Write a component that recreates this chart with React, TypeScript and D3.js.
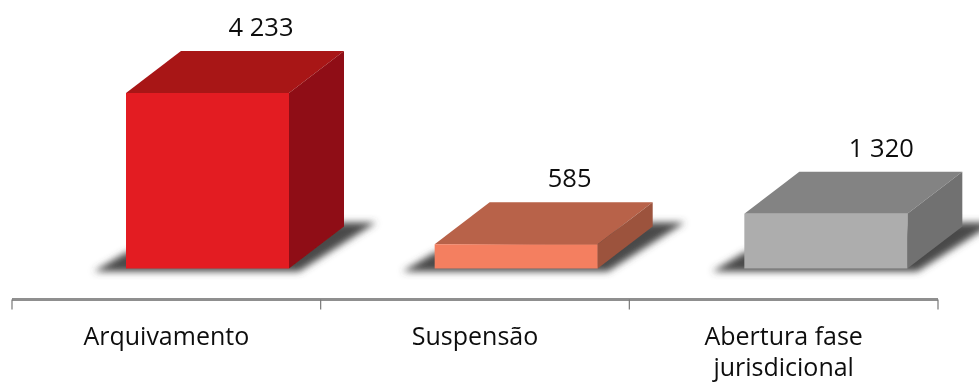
import React from "react";
import * as d3 from "d3";

const categories = ["Arquivamento", "Suspensão", "Abertura fase|jurisdicional"];
const values = [4233, 585, 1320];
const valueLabels = ["4 233", "585", "1 320"];
const frontColors = ["#e31e24", "#f47f60", "#adadad"];
const topColors = ["#a81316", "#b86248", "#838383"];
const sideColors = ["#8f1012", "#9c523c", "#717171"];

const W = 979, H = 383;
const baseY = 268.5, axisY = 299.5;
const depthX = 55, depthY = 42, barW = 163, barInset = 114;

const x = d3.scaleBand<string>().domain(categories).range([12, 938]);
const y = d3.scaleLinear().domain([0, 4233]).range([baseY, 93]);
const poly = (p: number[][]) => (d3.line()(p as [number, number][]) ?? "") + "Z";

export default function App() {
  return (
    <svg width={W} height={H} viewBox={`0 0 ${W} ${H}`}
      style={{ position: "absolute", left: 0, top: 0, background: "#fff", fontFamily: "'Open Sans'" }}>
      <defs>
        <filter id="shadow" x="-20%" y="-40%" width="140%" height="180%"><feGaussianBlur stdDeviation="3.6" /></filter>
        <filter id="soft" x="-5%" y="-5%" width="110%" height="110%"><feGaussianBlur stdDeviation="0.7" /></filter>
      </defs>
      <g filter="url(#soft)">
        {categories.map((c, i) => {
          const l = (x(c) ?? 0) + barInset + (i === 2 ? 1 : 0);
          const r = l + barW;
          const t = y(values[i]);
          return (
            <g key={c}>
              <path filter="url(#shadow)" fill="#484848"
                d={poly([[l - 32, baseY + 3], [r + 10, baseY + 3], [r + depthX + 32, baseY - depthY - 4], [r + depthX, baseY - depthY - 4], [l, baseY - 16]])} />
              <path fill={topColors[i]} d={poly([[l, t], [l + depthX, t - depthY], [r + depthX, t - depthY], [r, t]])} />
              <path fill={sideColors[i]} d={poly([[r, t], [r + depthX, t - depthY], [r + depthX, baseY - depthY], [r, baseY]])} />
              <rect x={l} y={t} width={barW} height={baseY - t} fill={frontColors[i]} />
              <text x={l + 135 + (i === 2 ? 2 : 0)} y={t - depthY - 15} textAnchor="middle" fontSize={25.5} fill="#111">{valueLabels[i]}</text>
            </g>
          );
        })}
        <line x1={12} x2={938} y1={axisY} y2={axisY} stroke="#8f8f8f" strokeWidth={3} />
        {[...x.domain().map((c) => x(c) ?? 0), 938].map((t) => (
          <line key={t} x1={t} x2={t} y1={axisY} y2={axisY + 10} stroke="#777" strokeWidth={1.2} />
        ))}
        {categories.map((c) => {
          const cx = (x(c) ?? 0) + x.bandwidth() / 2;
          return c.split("|").map((line, j) => (
            <text key={line} x={cx} y={345 + j * 31} textAnchor="middle" fontSize={25} fill="#111">{line}</text>
          ));
        })}
      </g>
    </svg>
  );
}
